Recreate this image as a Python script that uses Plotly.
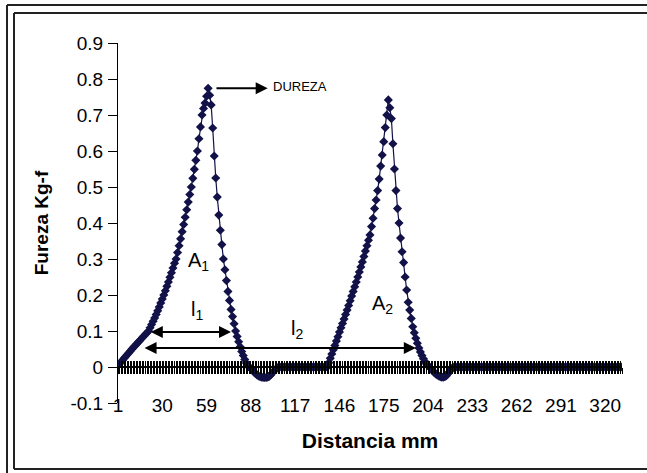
import plotly.graph_objects as go

# Posición a lo largo del ensayo (categorías 1..331)
distancia = list(range(1, 332))

# Fuerza registrada (Kg-f) en cada punto
fuerza = [
    0.005, 0.009, 0.014, 0.019, 0.024, 0.029, 0.034, 0.039, 0.044, 0.049,
    0.054, 0.058, 0.063, 0.068, 0.072, 0.077, 0.082, 0.086, 0.091, 0.095,
    0.100, 0.109, 0.118, 0.127, 0.136, 0.146, 0.156, 0.167, 0.178, 0.189,
    0.200, 0.212, 0.224, 0.236, 0.249, 0.262, 0.275, 0.288, 0.300, 0.318,
    0.337, 0.356, 0.376, 0.396, 0.416, 0.437, 0.458, 0.479, 0.500, 0.524,
    0.549, 0.574, 0.600, 0.634, 0.667, 0.700, 0.718, 0.733, 0.752, 0.774,
    0.755, 0.728, 0.664, 0.586, 0.525, 0.472, 0.422, 0.380, 0.340, 0.300,
    0.270, 0.240, 0.210, 0.185, 0.160, 0.140, 0.120, 0.100, 0.085, 0.070,
    0.056, 0.043, 0.032, 0.021, 0.011, 0.003, 0.000, -0.004, -0.009, -0.014,
    -0.018, -0.022, -0.025, -0.027, -0.028, -0.029, -0.029, -0.029, -0.028, -0.026,
    -0.022, -0.017, -0.012, -0.007, -0.003, 0.000, 0.000, 0.000, 0.000, 0.000,
    0.000, 0.000, 0.000, 0.000, 0.000, 0.000, 0.000, 0.000, 0.000, 0.000,
    0.000, 0.000, 0.000, 0.000, 0.000, 0.000, 0.000, 0.000, 0.000, 0.000,
    0.000, 0.000, 0.000, 0.000, 0.000, 0.000, 0.000, 0.000, 0.012, 0.024,
    0.036, 0.048, 0.060, 0.072, 0.084, 0.097, 0.109, 0.121, 0.133, 0.146,
    0.158, 0.171, 0.184, 0.197, 0.210, 0.223, 0.236, 0.250, 0.264, 0.278,
    0.292, 0.307, 0.322, 0.337, 0.352, 0.367, 0.390, 0.413, 0.440, 0.464,
    0.490, 0.522, 0.558, 0.589, 0.626, 0.665, 0.700, 0.742, 0.720, 0.690,
    0.620, 0.550, 0.490, 0.440, 0.400, 0.358, 0.320, 0.290, 0.250, 0.214,
    0.180, 0.158, 0.135, 0.112, 0.095, 0.080, 0.066, 0.053, 0.042, 0.032,
    0.023, 0.015, 0.008, 0.003, 0.000, -0.005, -0.010, -0.015, -0.019, -0.022,
    -0.025, -0.027, -0.028, -0.028, -0.027, -0.024, -0.019, -0.013, -0.007, -0.002,
    0.000, 0.000, 0.000, 0.000, 0.000, 0.000, 0.000, 0.000, 0.000, 0.000,
    0.000, 0.000, 0.000, 0.000, 0.000, 0.000, 0.000, 0.000, 0.000, 0.000,
    0.000, 0.000, 0.000, 0.000, 0.000, 0.000, 0.000, 0.000, 0.000, 0.000,
    0.000, 0.000, 0.000, 0.000, 0.000, 0.000, 0.000, 0.000, 0.000, 0.000,
    0.000, 0.000, 0.000, 0.000, 0.000, 0.000, 0.000, 0.000, 0.000, 0.000,
    0.000, 0.000, 0.000, 0.000, 0.000, 0.000, 0.000, 0.000, 0.000, 0.000,
    0.000, 0.000, 0.000, 0.000, 0.000, 0.000, 0.000, 0.000, 0.000, 0.000,
    0.000, 0.000, 0.000, 0.000, 0.000, 0.000, 0.000, 0.000, 0.000, 0.000,
    0.000, 0.000, 0.000, 0.000, 0.000, 0.000, 0.000, 0.000, 0.000, 0.000,
    0.000, 0.000, 0.000, 0.000, 0.000, 0.000, 0.000, 0.000, 0.000, 0.000,
    0.000, 0.000, 0.000, 0.000, 0.000, 0.000, 0.000, 0.000, 0.000, 0.000,
    0.000,
]

# Etiquetas de los ejes
x_ticks = [1, 30, 59, 88, 117, 146, 175, 204, 233, 262, 291, 320]
y_ticks = [-0.1, 0.0, 0.1, 0.2, 0.3, 0.4, 0.5, 0.6, 0.7, 0.8, 0.9]
y_tick_text = ["-0.1", "0", "0.1", "0.2", "0.3", "0.4", "0.5", "0.6", "0.7", "0.8", "0.9"]

W, H = 647, 473
ML, MR, MT, MB = 118, 25, 43, 70
PW, PH = W - ML - MR, H - MT - MB

FONT = "Arial, Liberation Sans, sans-serif"
NAVY = "#121248"


def px_x(px):
    return (px - ML) / PW


def px_y(py):
    return (H - MB - py) / PH


fig = go.Figure()

fig.add_trace(go.Scatter(
    x=distancia, y=fuerza, mode="lines+markers",
    line=dict(color=NAVY, width=1.2),
    marker=dict(symbol="diamond", size=7, color=NAVY),
    showlegend=False, hoverinfo="x+y",
))

# Copias invisibles que activan los ejes de marcas sobre y = 0
for ax in ("x2", "x3"):
    fig.add_trace(go.Scatter(
        x=distancia, y=fuerza, xaxis=ax, yaxis="y", mode="lines",
        line=dict(width=0), opacity=0, showlegend=False, hoverinfo="skip",
    ))

zero_pos = (0 - y_ticks[0]) / (y_ticks[-1] - y_ticks[0])
x_range = [distancia[0], distancia[-1]]

fig.update_layout(
    width=W, height=H,
    margin=dict(l=ML, r=MR, t=MT, b=MB),
    paper_bgcolor="white", plot_bgcolor="white",
    font=dict(family=FONT, color="black", size=19),
    xaxis=dict(
        range=x_range, anchor="free", position=px_y(392),
        showline=False, ticks="", showgrid=False, zeroline=False,
        tickmode="array", tickvals=x_ticks, ticktext=[str(v) for v in x_ticks],
        tickfont=dict(size=19, family=FONT),
        title=dict(text="<b>Distancia mm</b>", font=dict(size=21, family=FONT), standoff=18),
        automargin=False,
    ),
    xaxis2=dict(
        range=x_range, matches="x", overlaying="x", anchor="free", position=zero_pos,
        showline=True, linecolor="black", linewidth=1.5,
        ticks="outside", tick0=1, dtick=1, ticklen=6, tickwidth=1, tickcolor="black",
        showticklabels=False, showgrid=False, zeroline=False,
    ),
    xaxis3=dict(
        range=x_range, matches="x", overlaying="x", anchor="free", position=zero_pos,
        showline=False,
        ticks="inside", tick0=1, dtick=1, ticklen=6, tickwidth=1, tickcolor="black",
        showticklabels=False, showgrid=False, zeroline=False,
    ),
    yaxis=dict(
        range=[y_ticks[0], y_ticks[-1]], anchor="x",
        showline=True, linecolor="black", linewidth=1,
        ticks="outside", ticklen=9, tickwidth=1, tickcolor="black",
        tickmode="array", tickvals=y_ticks, ticktext=y_tick_text,
        tickfont=dict(size=19, family=FONT), ticklabelstandoff=1,
        showgrid=False, zeroline=False,
        title=dict(text="<b>Fureza Kg-f</b>", font=dict(size=19, family=FONT), standoff=16),
        automargin=False,
    ),
)

# Marco doble alrededor de la figura (abierto por la derecha)
frame = dict(color="#222222", width=2)
shapes = [
    dict(type="line", xref="paper", yref="paper", x0=px_x(7), x1=px_x(700), y0=px_y(5), y1=px_y(5), line=frame),
    dict(type="line", xref="paper", yref="paper", x0=px_x(7), x1=px_x(7), y0=px_y(5), y1=px_y(473), line=frame),
    dict(type="line", xref="paper", yref="paper", x0=px_x(14), x1=px_x(700), y0=px_y(13), y1=px_y(13), line=frame),
    dict(type="line", xref="paper", yref="paper", x0=px_x(14), x1=px_x(14), y0=px_y(13), y1=px_y(469), line=frame),
    dict(type="line", xref="paper", yref="paper", x0=px_x(14), x1=px_x(700), y0=px_y(469), y1=px_y(469), line=frame),
]
fig.update_layout(shapes=shapes)

arrow = dict(showarrow=True, arrowcolor="black", arrowwidth=2, arrowhead=2, arrowsize=1.2,
             axref="x", ayref="y", xref="x", yref="y", text="", standoff=0, startstandoff=0)

annotations = [
    # Dureza: flecha desde el pico
    dict(x=99, y=0.774, ax=64.5, ay=0.774, **arrow),
    dict(x=101, y=0.779, text="DUREZA", showarrow=False, xanchor="left", yanchor="middle",
         font=dict(size=13, family=FONT)),
    # Longitud l1
    dict(x=75, y=0.097, ax=21.5, ay=0.097, arrowside="end+start", **arrow),
    # Longitud l2
    dict(x=196, y=0.053, ax=17.4, ay=0.053, arrowside="end+start", **arrow),
    dict(x=53.7, y=0.292, text="A<sub>1</sub>", showarrow=False, font=dict(size=20, family=FONT)),
    dict(x=52.7, y=0.156, text="l<sub>1</sub>", showarrow=False, font=dict(size=20, family=FONT)),
    dict(x=118, y=0.103, text="l<sub>2</sub>", showarrow=False, font=dict(size=20, family=FONT)),
    dict(x=174.5, y=0.175, text="A<sub>2</sub>", showarrow=False, font=dict(size=20, family=FONT)),
]
fig.update_layout(annotations=annotations)

fig.write_html("out.html")
